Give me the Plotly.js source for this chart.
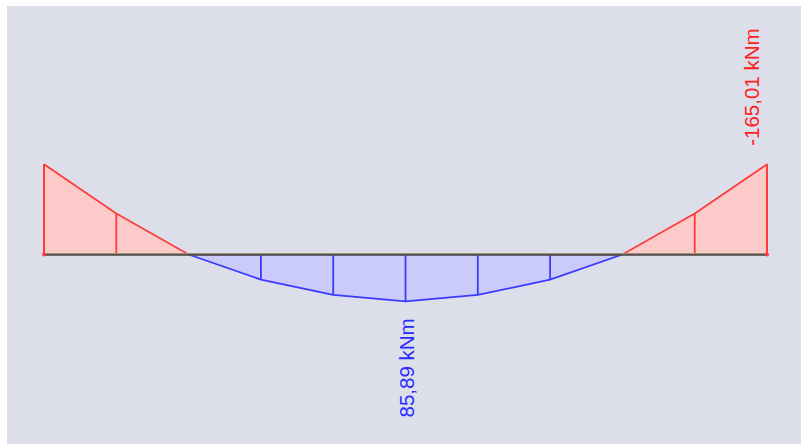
<!DOCTYPE html>
<html>
<head>
<meta charset="utf-8">
<script src="https://cdn.plot.ly/plotly-3.0.1.min.js"></script>
<style>html,body{margin:0;padding:0;background:#fff;}#chart{width:801px;height:445px;}</style>
</head>
<body>
<div id="chart"></div>
<script>
// Beam nodes (equal spacing) and bending moment values (kNm)
const nodes = [0, 1, 2, 3, 4, 5, 6, 7, 8, 9, 10];
const moments = [-165.01, -75, 0, 46, 74, 85.89, 74, 46, 0, -75, -165.01];
const minLabel = "-165,01 kNm";
const maxLabel = "85,89 kNm";

const RED = "#ff3a3a", RED_FILL = "#fdcaca";
const BLUE = "#3a3aff", BLUE_FILL = "#cacafb";

function region(from, to, fn) {
  const xs = [], ys = [];
  xs.push(nodes[from]); ys.push(0);
  for (let i = from; i <= to; i++) { xs.push(nodes[i]); ys.push(fn(moments[i])); }
  xs.push(nodes[to]); ys.push(0);
  xs.push(nodes[from]); ys.push(0);
  return {xs, ys};
}
const neg = v => Math.min(v, 0), pos = v => Math.max(v, 0);
const leftR = region(0, 3, neg), rightR = region(7, 10, neg), midR = region(2, 8, pos);

function verticals(idx) {
  const xs = [], ys = [];
  idx.forEach(i => { xs.push(nodes[i], nodes[i], null); ys.push(0, moments[i], null); });
  return {xs, ys};
}
const redV = verticals([0, 1, 9, 10]);
const blueV = verticals([3, 4, 5, 6, 7]);

const traces = [
  {x: midR.xs, y: midR.ys, mode: 'lines', fill: 'toself', fillcolor: BLUE_FILL, line: {color: BLUE, width: 1.7}, hoverinfo: 'skip'},
  {x: leftR.xs, y: leftR.ys, mode: 'lines', fill: 'toself', fillcolor: RED_FILL, line: {color: RED, width: 1.7}, hoverinfo: 'skip'},
  {x: rightR.xs, y: rightR.ys, mode: 'lines', fill: 'toself', fillcolor: RED_FILL, line: {color: RED, width: 1.7}, hoverinfo: 'skip'},
  {x: redV.xs, y: redV.ys, mode: 'lines', line: {color: RED, width: 1.8}, hoverinfo: 'skip'},
  {x: blueV.xs, y: blueV.ys, mode: 'lines', line: {color: BLUE, width: 1.8}, hoverinfo: 'skip'},
  {x: [nodes[0], nodes[10]], y: [-1.8, -1.8], mode: 'lines', line: {color: '#b4ad86', width: 1.2}, hoverinfo: 'skip'},
  {x: [nodes[0], nodes[10]], y: [0.4, 0.4], mode: 'lines', line: {color: '#505050', width: 2}, hoverinfo: 'skip'},
  {x: [nodes[0], nodes[10]], y: [0, 0], mode: 'markers', marker: {color: RED, size: 4}, hoverinfo: 'skip'}
];

const layout = {
  width: 801, height: 445,
  margin: {l: 0, r: 0, t: 0, b: 0},
  paper_bgcolor: '#ffffff',
  plot_bgcolor: 'rgba(0,0,0,0)',
  showlegend: false,
  xaxis: {range: [-0.6086, 10.47], visible: false, fixedrange: true},
  yaxis: {range: [348.6, -465.7], visible: false, fixedrange: true},
  shapes: [{type: 'rect', xref: 'paper', yref: 'paper', x0: 7/801, x1: 1, y0: 1/445, y1: 1 - 6/445,
            fillcolor: '#dcdfea', line: {width: 0}, layer: 'below'}],
  annotations: [
    {x: nodes[10], y: moments[10], text: minLabel, showarrow: false, textangle: -90,
     xanchor: 'center', yanchor: 'bottom', xshift: -15, yshift: 16,
     font: {family: 'Liberation Sans, Arial, sans-serif', size: 20.5, color: '#ff2020'}},
    {x: nodes[5], y: moments[5], text: maxLabel, showarrow: false, textangle: -90,
     xanchor: 'center', yanchor: 'top', xshift: 1, yshift: -15,
     font: {family: 'Liberation Sans, Arial, sans-serif', size: 20.5, color: '#2a2aff'}}
  ]
};

Plotly.newPlot('chart', traces, layout, {staticPlot: true, displayModeBar: false});
</script>
</body>
</html>
